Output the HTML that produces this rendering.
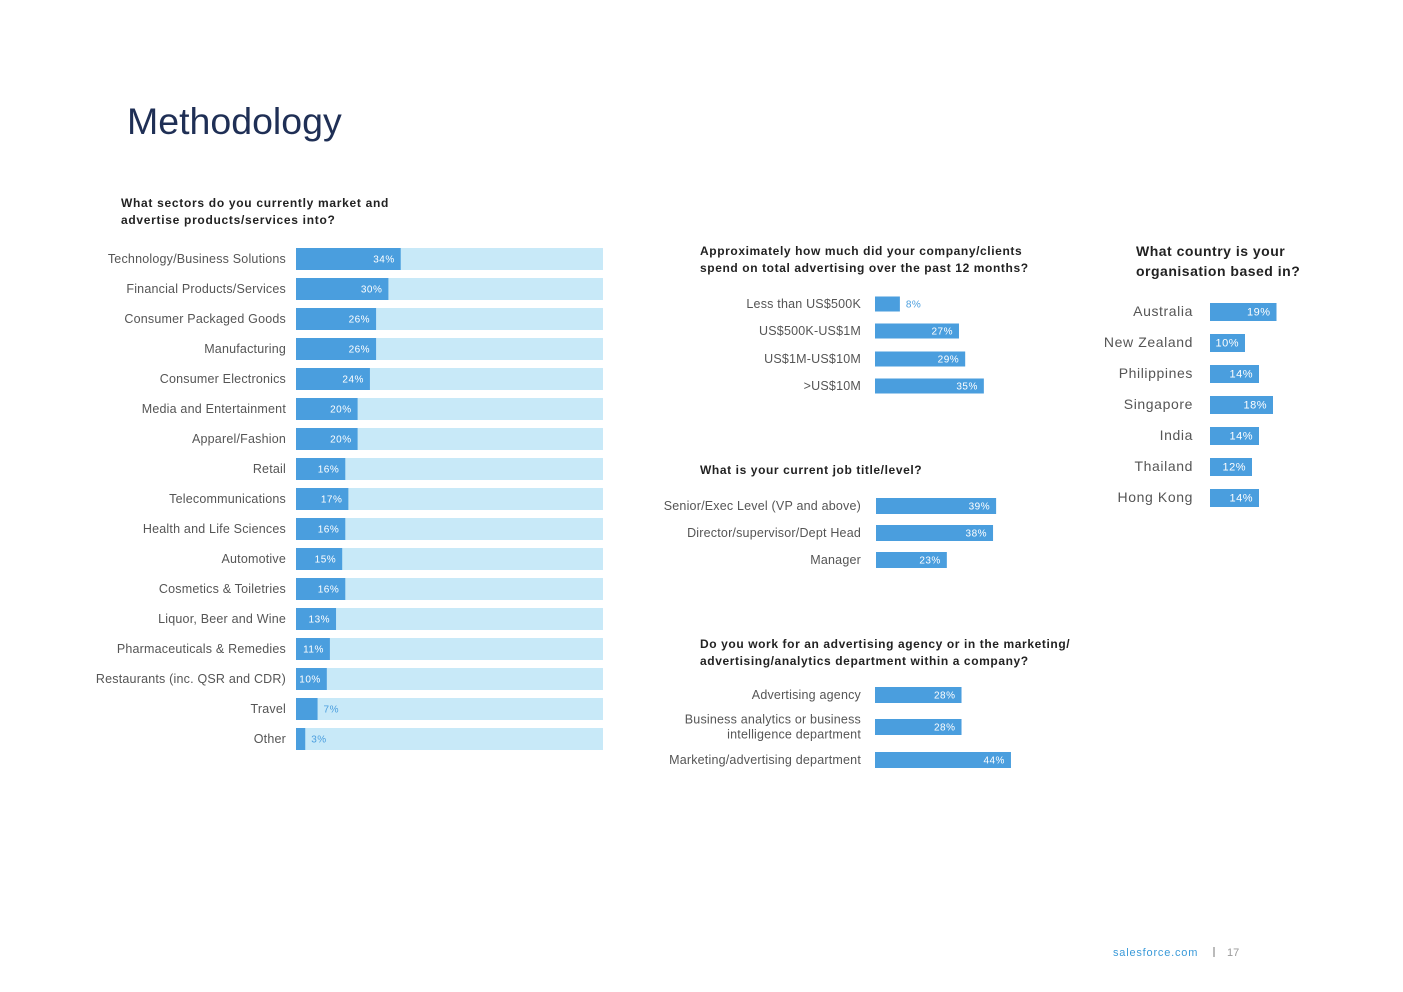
<!DOCTYPE html>
<html><head><meta charset="utf-8"><style>
html,body{margin:0;padding:0;background:#fff;}
svg{display:block;font-family:"Liberation Sans",sans-serif;}
</style></head><body>
<svg id="c" width="1403" height="992" xmlns="http://www.w3.org/2000/svg">
<text x="127" y="134" font-size="37.5" fill="#1f2f55">Methodology</text>
<text x="121" y="207" font-size="12" font-weight="bold" fill="#222" letter-spacing="0.7">What sectors do you currently market and</text>
<text x="121" y="224" font-size="12" font-weight="bold" fill="#222" letter-spacing="0.7">advertise products/services into?</text>
<text x="700" y="255" font-size="12" font-weight="bold" fill="#222" letter-spacing="0.6">Approximately how much did your company/clients</text>
<text x="700" y="272" font-size="12" font-weight="bold" fill="#222" letter-spacing="0.6">spend on total advertising over the past 12 months?</text>
<text x="700" y="474" font-size="12" font-weight="bold" fill="#222" letter-spacing="0.6">What is your current job title/level?</text>
<text x="700" y="648" font-size="12" font-weight="bold" fill="#222" letter-spacing="0.6">Do you work for an advertising agency or in the marketing/</text>
<text x="700" y="665" font-size="12" font-weight="bold" fill="#222" letter-spacing="0.6">advertising/analytics department within a company?</text>
<text x="1136" y="256" font-size="14" font-weight="bold" fill="#222" letter-spacing="0.5">What country is your</text>
<text x="1136" y="276" font-size="14" font-weight="bold" fill="#222" letter-spacing="0.5">organisation based in?</text>
<text x="1113" y="956" font-size="11" fill="#3a9ad9" letter-spacing="0.8">salesforce.com</text>
<rect x="1213" y="947" width="2" height="10" fill="#bbb"/>
<text x="1227" y="956" font-size="11" fill="#999">17</text>
</svg>
<script>
const sectorCats=["Technology/Business Solutions","Financial Products/Services","Consumer Packaged Goods","Manufacturing","Consumer Electronics","Media and Entertainment","Apparel/Fashion","Retail","Telecommunications","Health and Life Sciences","Automotive","Cosmetics & Toiletries","Liquor, Beer and Wine","Pharmaceuticals & Remedies","Restaurants (inc. QSR and CDR)","Travel","Other"];
const sectorVals=[34,30,26,26,24,20,20,16,17,16,15,16,13,11,10,7,3];
const spendCats=["Less than US$500K","US$500K-US$1M","US$1M-US$10M",">US$10M"];
const spendVals=[8,27,29,35];
const jobCats=["Senior/Exec Level (VP and above)","Director/supervisor/Dept Head","Manager"];
const jobVals=[39,38,23];
const agencyCats=[["Advertising agency"],["Business analytics or business","intelligence department"],["Marketing/advertising department"]];
const agencyVals=[28,28,44];
const countryCats=["Australia","New Zealand","Philippines","Singapore","India","Thailand","Hong Kong"];
const countryVals=[19,10,14,18,14,12,14];

const svg=document.getElementById('c');
const NS="http://www.w3.org/2000/svg";
function mk(tag,attrs,txt){const e=document.createElementNS(NS,tag);for(const k in attrs)e.setAttribute(k,attrs[k]);if(txt!==undefined)e.textContent=txt;svg.appendChild(e);return e;}

function chart(cfg){
  cfg.cats.forEach((c,i)=>{
    const v=cfg.vals[i];
    const cy=cfg.y0+cfg.step[i];
    const lines=Array.isArray(c)?c:[c];
    lines.forEach((l,j)=>{
      const t=mk('text',{x:cfg.lx,y:cy+4+(j-(lines.length-1)/2)*15,'font-size':cfg.fs,fill:'#555','text-anchor':'end','letter-spacing':cfg.ls||0.2},l);
      
      
    });
    if(cfg.track){
      const tr=mk('rect',{x:cfg.bx,y:cy-cfg.h/2,width:cfg.track,height:cfg.h,fill:'#c8e9f8'});
      
      
    }
    const w=v*cfg.scale;
    const b=mk('rect',{x:cfg.bx,y:cy-cfg.h/2,width:w,height:cfg.h,fill:'#4a9ede'});
    
    
    const inside=w>28;
    const t=mk('text',{x:inside?cfg.bx+w-6:cfg.bx+w+6,y:cy+3.5,'font-size':cfg.vfs,fill:inside?'#fff':'#4a9ede','text-anchor':inside?'end':'start','letter-spacing':0.5},v+'%');
    
    
  });
}
chart({name:'sector',cats:sectorCats,vals:sectorVals,lx:286,bx:296,scale:3.08,track:307,h:22,y0:259,step:sectorCats.map((_,i)=>i*30),fs:12.5,vfs:10});
chart({name:'spend',cats:spendCats,vals:spendVals,lx:861,bx:875,scale:3.11,h:15,y0:304,step:[0,27,55,82],fs:12.5,vfs:10});
chart({name:'job',cats:jobCats,vals:jobVals,lx:861,bx:876,scale:3.08,h:16,y0:506,step:[0,27,54],fs:12.5,vfs:10});
chart({name:'agency',cats:agencyCats,vals:agencyVals,lx:861,bx:875,scale:3.09,h:16,y0:695,step:[0,32,65],fs:12.5,vfs:10});
chart({name:'country',cats:countryCats,vals:countryVals,lx:1193,bx:1210,scale:3.5,h:18,y0:312,step:countryCats.map((_,i)=>i*31),fs:14,vfs:11,ls:0.6});
</script>
</body></html>
